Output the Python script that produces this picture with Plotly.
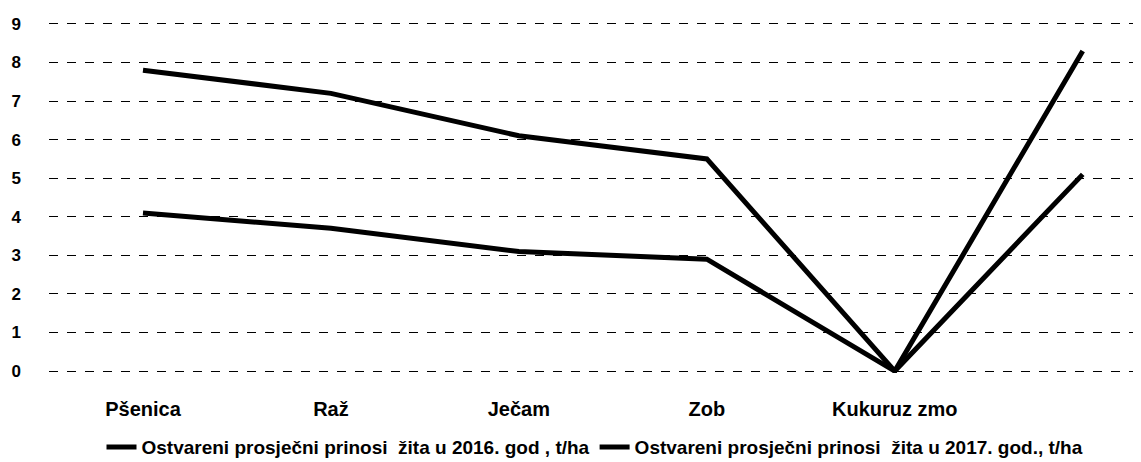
import plotly.graph_objects as go

categories = ["Pšenica", "Raž", "Ječam", "Zob", "Kukuruz zmo", " "]
yield_2016 = [7.8, 7.2, 6.1, 5.5, 0, 8.3]
yield_2017 = [4.1, 3.7, 3.1, 2.9, 0, 5.1]
name_2016 = "Ostvareni prosječni prinosi  žita u 2016. god , t/ha"
name_2017 = "Ostvareni prosječni prinosi  žita u 2017. god., t/ha"
y_ticks = list(range(0, 10))

x_idx = list(range(len(categories)))
FONT = "Liberation Sans, Arial, sans-serif"

fig = go.Figure()
fig.add_trace(go.Scatter(x=x_idx, y=yield_2016, mode="lines", name=name_2016,
                         line=dict(color="black", width=5)))
fig.add_trace(go.Scatter(x=x_idx, y=yield_2017, mode="lines", name=name_2017,
                         line=dict(color="black", width=5)))

# page body has an 8px margin, so the figure is drawn 8px smaller
fig.update_layout(
    width=1133, height=454,
    margin=dict(l=41, r=0, t=14, b=89, autoexpand=False),
    paper_bgcolor="white", plot_bgcolor="white",
    font=dict(family=FONT, color="black"),
    showlegend=True,
    legend=dict(orientation="h", x=0.5, xanchor="center", y=-0.211, yanchor="middle",
                font=dict(size=19, family=FONT, weight="bold"),
                itemwidth=30, tracegroupgap=0),
)
fig.update_xaxes(
    tickmode="array", tickvals=x_idx, ticktext=categories,
    range=[-0.5, 5.31], showgrid=False, zeroline=False, showline=False,
    ticks="", ticklabelstandoff=22, automargin=False,
    tickfont=dict(size=20, family=FONT, weight="bold"),
)
fig.update_yaxes(
    range=[-0.05, 9.05], tickvals=y_ticks, showgrid=True, gridcolor="black", gridwidth=1.3,
    griddash="dash", zeroline=False, showline=False, ticks="",
    ticklabelstandoff=27, automargin=False,
    tickfont=dict(size=17, family=FONT, weight="bold"),
)

fig.write_html("out.html")
